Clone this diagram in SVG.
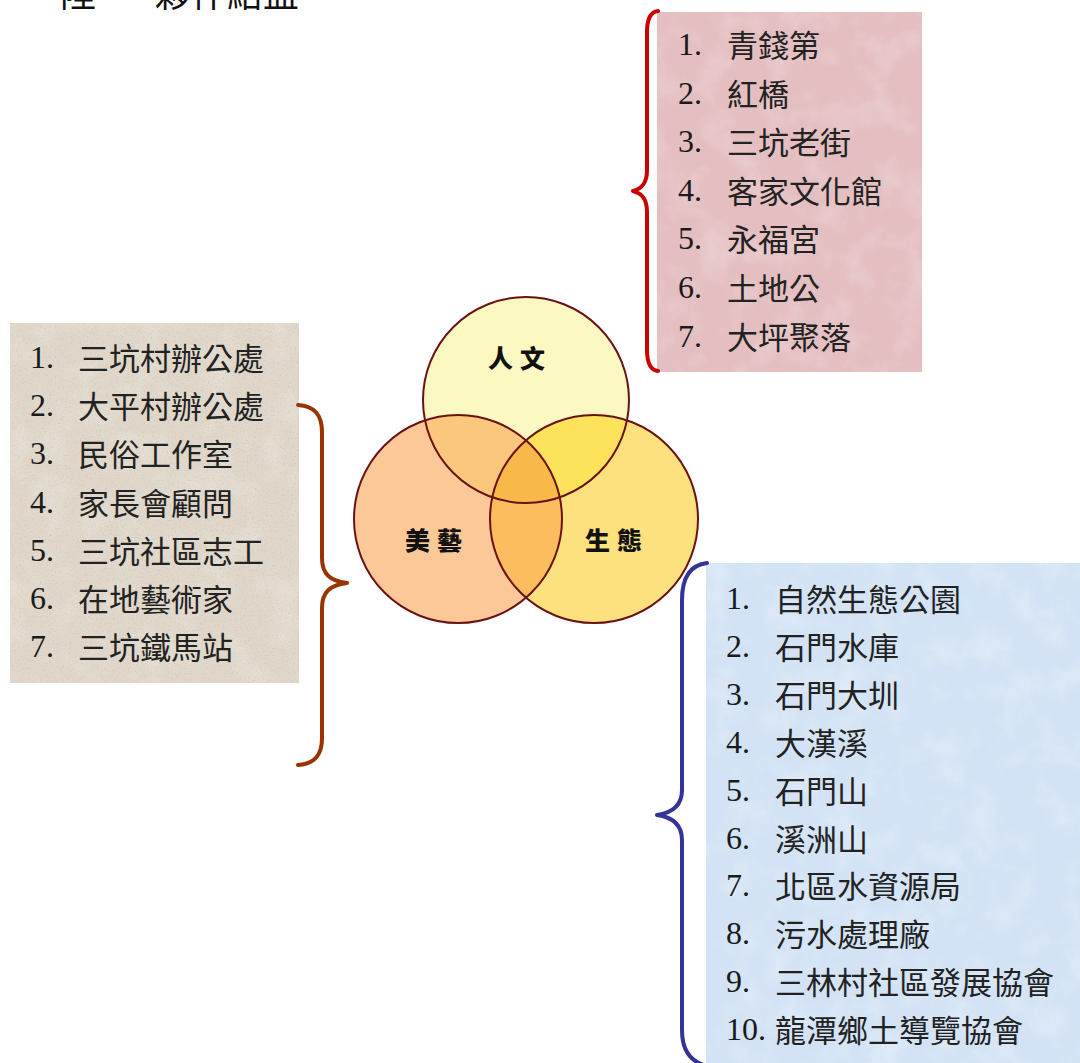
<svg xmlns="http://www.w3.org/2000/svg" width="1080" height="1063" viewBox="0 0 1080 1063">
<style>
.num{font-family:"Liberation Serif","Times New Roman",serif;font-size:32px;fill:#1a1a1a}
.cjk{font-family:"Noto Sans CJK TC","Noto Sans CJK SC",sans-serif;font-size:31px;fill:#222}
.lbl{font-family:"Noto Sans CJK TC","Noto Sans CJK SC",sans-serif;font-size:25px;font-weight:900;fill:#111;letter-spacing:7px}
.title{font-family:"Noto Sans CJK TC","Noto Sans CJK SC",sans-serif;font-size:36px;fill:#111}
.brace{fill:none;stroke-width:4;stroke-linecap:round;stroke-linejoin:round}
.ring{fill:none;stroke:#6a1212;stroke-width:2}
</style>
<defs>
<filter id="mottle" x="0" y="0" width="1" height="1">
<feTurbulence type="fractalNoise" baseFrequency="0.03" numOctaves="4" seed="3"/>
<feColorMatrix type="matrix" values="0 0 0 0 1  0 0 0 0 1  0 0 0 0 1  1.4 0 0 0 -0.62"/>
</filter>
<filter id="speck" x="0" y="0" width="1" height="1">
<feTurbulence type="fractalNoise" baseFrequency="0.6" numOctaves="2" seed="5"/>
<feColorMatrix type="matrix" values="0 0 0 0 0.45  0 0 0 0 0.4  0 0 0 0 0.35  2.2 0 0 0 -1.25"/>
</filter>
<clipPath id="cT"><circle cx="526" cy="400" r="103"/></clipPath>
<clipPath id="cL"><circle cx="458" cy="519" r="104"/></clipPath>
<clipPath id="cR"><circle cx="594" cy="519" r="104"/></clipPath>
</defs>
<rect width="1080" height="1063" fill="#fff"/>

<g id="title">
<text class="title" x="60" y="7">陸、</text>
<text class="title" x="155" y="7">夥伴結盟</text>
</g>

<g id="list-culture">
<rect x="657" y="12" width="265" height="360" fill="#e4bec1"/>
<rect x="657" y="12" width="265" height="360" fill="#fff" opacity="0.35" filter="url(#mottle)"/>
<text class="num" x="678" y="55">1.</text><text class="cjk" x="727" y="57">青錢第</text>
<text class="num" x="678" y="103.6">2.</text><text class="cjk" x="727" y="105.6">紅橋</text>
<text class="num" x="678" y="152.2">3.</text><text class="cjk" x="727" y="154.2">三坑老街</text>
<text class="num" x="678" y="200.8">4.</text><text class="cjk" x="727" y="202.8">客家文化館</text>
<text class="num" x="678" y="249.4">5.</text><text class="cjk" x="727" y="251.4">永福宮</text>
<text class="num" x="678" y="298">6.</text><text class="cjk" x="727" y="300">土地公</text>
<text class="num" x="678" y="346.6">7.</text><text class="cjk" x="727" y="348.6">大坪聚落</text>
</g>

<g id="list-art">
<rect x="10" y="323" width="289" height="360" fill="#e0d7ca"/>
<rect x="10" y="323" width="289" height="360" fill="#fff" opacity="0.3" filter="url(#mottle)"/>
<rect x="10" y="323" width="289" height="360" fill="#fff" opacity="0.5" filter="url(#speck)"/>
<text class="num" x="30" y="368">1.</text><text class="cjk" x="78" y="370">三坑村辦公處</text>
<text class="num" x="30" y="416.2">2.</text><text class="cjk" x="78" y="418.2">大平村辦公處</text>
<text class="num" x="30" y="464.4">3.</text><text class="cjk" x="78" y="466.4">民俗工作室</text>
<text class="num" x="30" y="512.6">4.</text><text class="cjk" x="78" y="514.6">家長會顧問</text>
<text class="num" x="30" y="560.8">5.</text><text class="cjk" x="78" y="562.8">三坑社區志工</text>
<text class="num" x="30" y="609">6.</text><text class="cjk" x="78" y="611">在地藝術家</text>
<text class="num" x="30" y="657.2">7.</text><text class="cjk" x="78" y="659.2">三坑鐵馬站</text>
</g>

<g id="list-ecology">
<rect x="706" y="563" width="374" height="500" fill="#d3e3f5"/>
<rect x="706" y="563" width="374" height="500" fill="#fff" opacity="0.4" filter="url(#mottle)"/>
<text class="num" x="726" y="609">1.</text><text class="cjk" x="775" y="611">自然生態公園</text>
<text class="num" x="726" y="656.9">2.</text><text class="cjk" x="775" y="658.9">石門水庫</text>
<text class="num" x="726" y="704.8">3.</text><text class="cjk" x="775" y="706.8">石門大圳</text>
<text class="num" x="726" y="752.7">4.</text><text class="cjk" x="775" y="754.7">大漢溪</text>
<text class="num" x="726" y="800.6">5.</text><text class="cjk" x="775" y="802.6">石門山</text>
<text class="num" x="726" y="848.5">6.</text><text class="cjk" x="775" y="850.5">溪洲山</text>
<text class="num" x="726" y="896.4">7.</text><text class="cjk" x="775" y="898.4">北區水資源局</text>
<text class="num" x="726" y="944.3">8.</text><text class="cjk" x="775" y="946.3">污水處理廠</text>
<text class="num" x="726" y="992.2">9.</text><text class="cjk" x="775" y="994.2">三林村社區發展協會</text>
<text class="num" x="726" y="1040.1">10.</text><text class="cjk" x="775" y="1042.1">龍潭鄉土導覽協會</text>
</g>

<g id="venn">
<g id="circle-culture"><circle cx="526" cy="400" r="103" fill="#fbf8c2"/></g>
<g id="circle-art"><circle cx="458" cy="519" r="104" fill="#fdc897"/></g>
<g id="circle-ecology"><circle cx="594" cy="519" r="104" fill="#fde17f"/></g>
<circle cx="458" cy="519" r="104" fill="#fbc77c" clip-path="url(#cT)"/>
<circle cx="594" cy="519" r="104" fill="#fde25c" clip-path="url(#cT)"/>
<circle cx="594" cy="519" r="104" fill="#fbbd5e" clip-path="url(#cL)"/>
<g clip-path="url(#cT)"><circle cx="594" cy="519" r="104" fill="#f9b94a" clip-path="url(#cL)"/></g>
<circle class="ring" cx="526" cy="400" r="103"/>
<circle class="ring" cx="458" cy="519" r="104"/>
<circle class="ring" cx="594" cy="519" r="104"/>
<text class="lbl" x="488" y="368">人文</text>
<text class="lbl" x="405" y="550">美藝</text>
<text class="lbl" x="585" y="550">生態</text>
</g>

<g id="connectors">
<path class="brace" stroke="#cc0000" d="M658 11 C650 12 647 20 647 32 L647 170 C647 184 641 189 633 191 C641 193 647 198 647 212 L647 350 C647 362 650 370 658 371"/>
<path class="brace" stroke="#993300" d="M298 405 C314 406 322 414 322 432 L322 558 C322 574 330 581 347 583 C330 585 322 592 322 608 L322 738 C322 756 314 764 298 765"/>
<path class="brace" stroke="#333399" d="M707 563 C690 565 682 578 682 600 L682 790 C682 806 671 813 657 815 C671 817 682 824 682 840 L682 1030 C682 1050 690 1062 707 1066"/>
</g>
</svg>
